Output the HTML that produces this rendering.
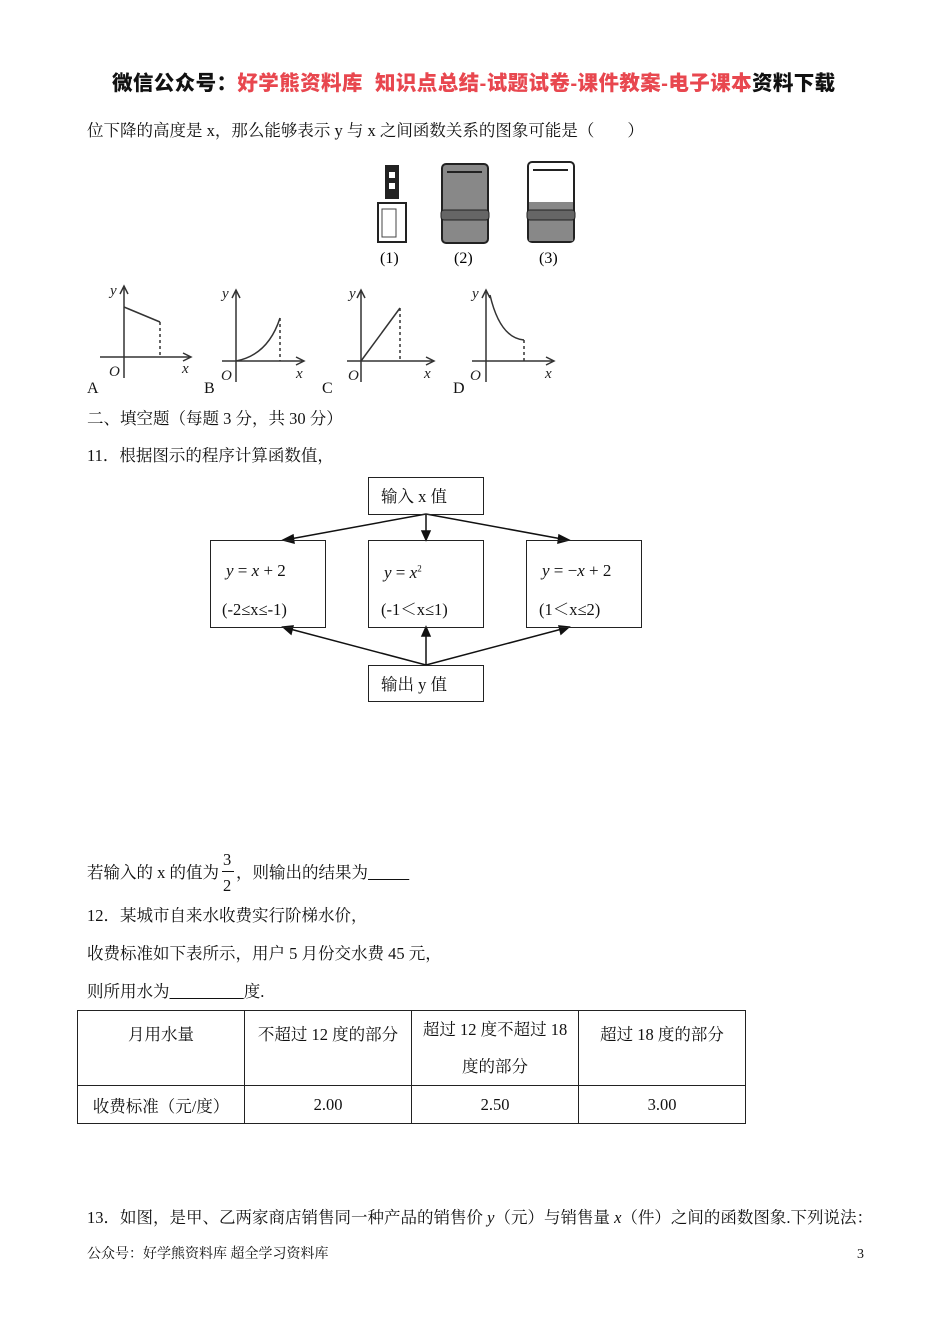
<!DOCTYPE html>
<html><head><meta charset="utf-8">
<style>
body{margin:0;background:#fff;}
#p{position:relative;width:950px;height:1344px;overflow:hidden;font-family:"Liberation Serif","Noto Serif CJK SC",serif;font-size:16.5px;color:#111;}
.t{position:absolute;white-space:nowrap;line-height:1;}
.h{font-family:"Liberation Sans","Noto Sans CJK SC",sans-serif;font-weight:900;font-size:20.5px;letter-spacing:0.4px;}
.r{color:#e8474f;}
.box{position:absolute;border:1.3px solid #222;box-sizing:border-box;}
.m{font-style:italic;}
table{position:absolute;left:77px;top:1010px;border-collapse:collapse;}
td{border:1px solid #222;width:166px;text-align:center;vertical-align:top;padding:0;font-size:16.5px;}
</style></head><body><div id="p">
<div class="t h" style="left:112px;top:74px">微信公众号：<span class="r">好学熊资料库&nbsp;&nbsp;知识点总结-试题试卷-课件教案-电子课本</span>资料下载</div>
<div class="t" style="left:87px;top:123px">位下降的高度是 x，那么能够表示 y 与 x 之间函数关系的图象可能是（　　）</div>

<svg style="position:absolute;left:0;top:0" width="950" height="1344">
<rect x="385" y="165" width="14" height="34" fill="#222"/>
<rect x="389" y="172" width="6" height="6" fill="#fff"/><rect x="389" y="183" width="6" height="6" fill="#fff"/>
<rect x="378" y="203" width="28" height="39" fill="#fff" stroke="#222" stroke-width="2"/>
<rect x="382" y="209" width="14" height="28" fill="none" stroke="#444"/>
<rect x="442" y="164" width="46" height="79" rx="4" fill="#888" stroke="#222" stroke-width="2"/>
<rect x="441" y="210" width="48" height="10" rx="3" fill="#666" stroke="#222"/>
<line x1="447" y1="172" x2="482" y2="172" stroke="#222" stroke-width="2"/>
<rect x="528" y="162" width="46" height="80" rx="4" fill="#fff" stroke="#222" stroke-width="2"/>
<rect x="529" y="202" width="44" height="39" fill="#888"/>
<rect x="527" y="210" width="48" height="10" rx="3" fill="#666" stroke="#222"/>
<line x1="533" y1="170" x2="568" y2="170" stroke="#222" stroke-width="2"/>
<g font-size="16" font-family="Liberation Serif">
<text x="380" y="263">(1)</text><text x="454" y="263">(2)</text><text x="539" y="263">(3)</text></g>
<g stroke="#333" stroke-width="1.5" fill="none">
<line x1="124" y1="378" x2="124" y2="286"/><polyline points="120,294 124,286 128,294"/>
<line x1="100" y1="357" x2="190" y2="357"/><polyline points="183,353 191,357 183,361"/>
<polyline points="124,307 160,322"/><line x1="160" y1="322" x2="160" y2="357" stroke-dasharray="3,3"/>
<line x1="236" y1="382" x2="236" y2="290"/><polyline points="232,298 236,290 240,298"/>
<line x1="222" y1="361" x2="303" y2="361"/><polyline points="296,357 304,361 296,365"/>
<path d="M236,361 Q268,355 280,318"/><line x1="280" y1="318" x2="280" y2="361" stroke-dasharray="3,3"/>
<line x1="361" y1="382" x2="361" y2="290"/><polyline points="357,298 361,290 365,298"/>
<line x1="347" y1="361" x2="433" y2="361"/><polyline points="426,357 434,361 426,365"/>
<line x1="361" y1="361" x2="400" y2="308"/><line x1="400" y1="308" x2="400" y2="361" stroke-dasharray="3,3"/>
<line x1="486" y1="382" x2="486" y2="290"/><polyline points="482,298 486,290 490,298"/>
<line x1="472" y1="361" x2="553" y2="361"/><polyline points="546,357 554,361 546,365"/>
<path d="M490,295 Q500,338 524,340"/><line x1="524" y1="340" x2="524" y2="361" stroke-dasharray="3,3"/>
</g>
<g font-family="Liberation Serif" font-style="italic" font-size="15" fill="#222">
<text x="110" y="295">y</text><text x="109" y="376">O</text><text x="182" y="373">x</text>
<text x="222" y="298">y</text><text x="221" y="380">O</text><text x="296" y="378">x</text>
<text x="349" y="298">y</text><text x="348" y="380">O</text><text x="424" y="378">x</text>
<text x="472" y="298">y</text><text x="470" y="380">O</text><text x="545" y="378">x</text>
</g>
<g font-family="Liberation Serif" font-size="16" fill="#111">
<text x="87" y="393">A</text><text x="204" y="393">B</text><text x="322" y="393">C</text><text x="453" y="393">D</text></g>
<g stroke="#111" stroke-width="1.5" fill="#111">
<line x1="426" y1="514" x2="290" y2="539"/><line x1="426" y1="514" x2="426" y2="533"/><line x1="426" y1="514" x2="562" y2="539"/>
<polygon points="283,540 293,535 294,543"/><polygon points="426,540 422,531 430,531"/><polygon points="569,540 559,535 558,543"/>
<line x1="426" y1="665" x2="290" y2="629"/><line x1="426" y1="665" x2="426" y2="635"/><line x1="426" y1="665" x2="562" y2="629"/>
<polygon points="283,627 293,626 291,634"/><polygon points="426,627 422,636 430,636"/><polygon points="569,627 559,626 561,634"/>
</g>
</svg>
<div class="t" style="left:87px;top:411px">二、填空题（每题 3 分，共 30 分）</div>
<div class="t" style="left:87px;top:448px">11．根据图示的程序计算函数值，</div>
<div class="box" style="left:368px;top:477px;width:116px;height:38px"></div>
<div class="t" style="left:381px;top:489px">输入 x 值</div>
<div class="box" style="left:210px;top:540px;width:116px;height:88px"></div>
<div class="box" style="left:368px;top:540px;width:116px;height:88px"></div>
<div class="box" style="left:526px;top:540px;width:116px;height:88px"></div>
<div class="t" style="left:226px;top:562px;font-size:17px"><span class="m">y</span> = <span class="m">x</span> + 2</div>
<div class="t" style="left:222px;top:602px">(-2≤x≤-1)</div>
<div class="t" style="left:384px;top:564px;font-size:17px"><span class="m">y</span> = <span class="m">x</span><sup style="font-size:9px">2</sup></div>
<div class="t" style="left:381px;top:602px">(-1＜x≤1)</div>
<div class="t" style="left:542px;top:562px;font-size:17px"><span class="m">y</span> = −<span class="m">x</span> + 2</div>
<div class="t" style="left:539px;top:602px">(1＜x≤2)</div>
<div class="box" style="left:368px;top:665px;width:116px;height:37px"></div>
<div class="t" style="left:381px;top:677px">输出 y 值</div>

<div class="t" style="left:87px;top:865px">若输入的 x 的值为</div>
<div class="t" style="left:223px;top:852px">3</div>
<div style="position:absolute;left:222px;top:871px;width:12px;border-top:1px solid #111"></div>
<div class="t" style="left:223px;top:878px">2</div>
<div class="t" style="left:236px;top:865px">，则输出的结果为<u>&nbsp;&nbsp;&nbsp;&nbsp;&nbsp;&nbsp;&nbsp;&nbsp;&nbsp;&nbsp;</u></div>
<div class="t" style="left:87px;top:908px">12．某城市自来水收费实行阶梯水价，</div>
<div class="t" style="left:87px;top:946px">收费标准如下表所示，用户 5 月份交水费 45 元，</div>
<div class="t" style="left:87px;top:984px">则所用水为<u>&nbsp;&nbsp;&nbsp;&nbsp;&nbsp;&nbsp;&nbsp;&nbsp;&nbsp;&nbsp;&nbsp;&nbsp;&nbsp;&nbsp;&nbsp;&nbsp;&nbsp;&nbsp;</u>度.</div>
<table>
<tr style="height:75px"><td><div style="margin-top:10px">月用水量</div></td><td><div style="margin-top:10px">不超过 12 度的部分</div></td><td><div style="line-height:37px;margin-top:0px">超过 12 度不超过 18<br>度的部分</div></td><td><div style="margin-top:10px">超过 18 度的部分</div></td></tr>
<tr style="height:38px"><td style="vertical-align:middle">收费标准（元/度）</td><td style="vertical-align:middle">2.00</td><td style="vertical-align:middle">2.50</td><td style="vertical-align:middle">3.00</td></tr>
</table>
<div class="t" style="left:87px;top:1210px">13．如图，是甲、乙两家商店销售同一种产品的销售价 <i>y</i>（元）与销售量 <i>x</i>（件）之间的函数图象.下列说法：</div>
<div class="t" style="left:87px;top:1248px;font-size:14px">公众号：好学熊资料库 超全学习资料库</div>
<div class="t" style="left:857px;top:1248px;font-size:14px">3</div>
</div></body></html>
